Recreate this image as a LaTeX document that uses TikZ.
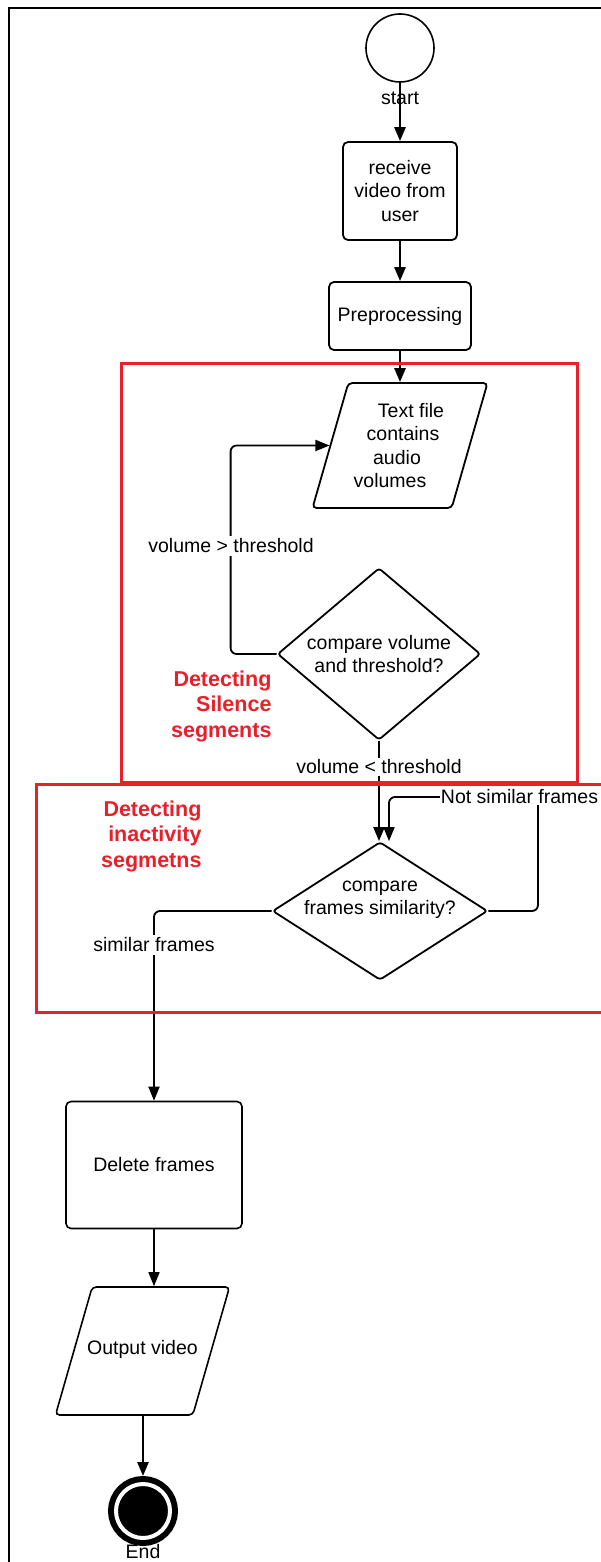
\documentclass[tikz,border=0pt]{standalone}
\usepackage{fontspec}
\setmainfont{Liberation Sans}
\usetikzlibrary{shapes.geometric,arrows.meta}
\definecolor{frred}{RGB}{232,32,42}
\begin{document}
\begin{tikzpicture}[x=1pt,y=-1pt,
  every node/.style={font=\fontsize{19.5}{23.3}\selectfont},
  boxnode/.style={draw, line width=1.8pt, rounded corners=5pt, align=center, inner sep=2pt},
  paranode/.style={draw, line width=1.8pt, trapezium, trapezium left angle=74, trapezium right angle=106,
    trapezium stretches body=true, rounded corners=4pt, align=center, inner xsep=0pt},
  dianode/.style={draw, line width=1.8pt, diamond, aspect=1, inner sep=0pt, rounded corners=3pt, align=center},
  conn/.style={line width=2.6pt, -{Triangle[length=14pt,width=11pt]}},
  connthin/.style={line width=1.8pt, rounded corners=6pt, -{Triangle[length=14pt,width=11pt]}},
  lbl/.style={fill=white, inner sep=3pt},
  redbox/.style={draw=frred, line width=3pt},
  redtxt/.style={text=frred, font=\fontsize{21.5}{25.5}\selectfont\bfseries, align=right},
]
\useasboundingbox (0,0) rectangle (600,1562);
\fill[white] (0,0) rectangle (600,1562);
\draw[line width=2.5pt] (9,1570) -- (9,8) -- (610,8);

% nodes
\node[draw, circle, line width=1.6pt, minimum size=68pt, inner sep=0pt] (start) at (400,48) {};
\node (startlbl) at (400,98) {start};
\node[boxnode, minimum width=114pt, minimum height=98pt] (recv) at (400,191) {receive\\video from\\user};
\node[boxnode, minimum width=142pt, minimum height=68pt] (prep) at (400,316) {Preprocessing};
\node[paranode, inner ysep=62.5pt, minimum width=175pt, minimum height=125pt,
  label={[align=center]center:{\hspace*{22pt}Text file\\\hspace*{6pt}contains\\\hspace*{-6pt}audio\\\hspace*{-20pt}volumes}}] (tf) at (400,445.5) {};
\node[dianode, minimum width=203pt, minimum height=172pt] (d1) at (379,654)
  {\makebox[0pt]{compare volume}\\\makebox[0pt]{and threshold?}};
\node[dianode, minimum width=215pt, minimum height=138pt,
  label={[align=center, yshift=11pt]center:{compare\\frames similarity?}}] (d2) at (380,911) {};
\node[boxnode, line width=1.6pt, minimum width=176pt, minimum height=127pt] (del) at (154,1165) {Delete frames};
\node[paranode, line width=1.6pt, inner ysep=64pt, minimum width=174pt, minimum height=128pt,
  label={[yshift=2pt]center:Output video}] (out) at (142.5,1351) {};
\node[circle, minimum size=54pt, inner sep=0pt, outer sep=8pt, fill=black, draw=black,
  line width=6pt, double=white, double distance=4pt] (endc) at (143,1511) {};
\node (endlbl) at (143,1552) {End};

\coordinate (nsc) at (538,797);

% connectors
\draw[conn] (start.south) -- (recv.north);
\draw[conn] (recv.south) -- (prep.north);
\draw[conn] (prep.south) -- (prep.south |- tf.north);
\draw[connthin] (d1.west) -- ++(-46,0) |- (tf.west);
\draw[connthin, line width=2.2pt] (d1.south) -- (d1.south |- d2.north);
\draw[connthin] (d2.east) -| (nsc) -| ([xshift=9pt]d2.north);
\draw[connthin] (d2.west) -| (del.north);
\draw[connthin, line width=1.5pt] (del.south) -- (del.south |- out.north);
\draw[conn] (endc.north |- out.south) -- (endc.north);

% connector labels
\node[lbl] (lgt) at (231,546) {volume > threshold};
\node[lbl, inner sep=2pt] (llt) at (379,767) {volume < threshold};
\node[lbl, inner sep=1pt] (lns) at (519.5,797) {Not similar frames};
\node[lbl] (lsim) at (154,945) {similar frames};

% groups
\draw[redbox] (121,363) rectangle (577,782);
\draw[redbox] (610,784) -- (36,784) -- (36,1012) -- (610,1012);
\node[redtxt, anchor=east] (silence) at (275,706) {Detecting\\Silence\\segments};
\node[redtxt, anchor=east] (inact) at (205,836) {Detecting\\inactivity\\segmetns};
\end{tikzpicture}
\end{document}
